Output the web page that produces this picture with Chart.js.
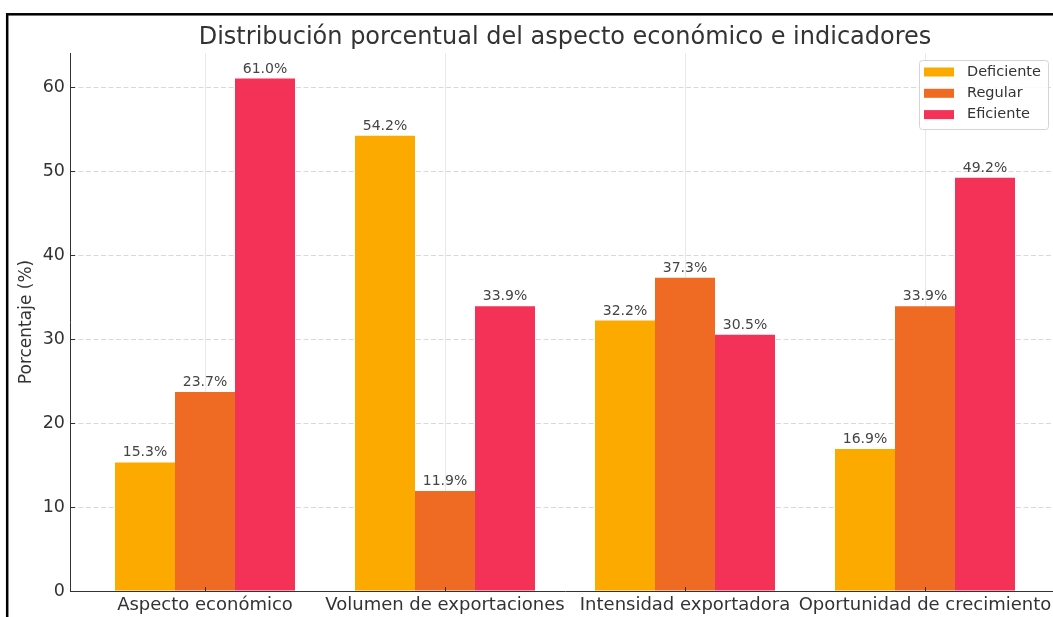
<!DOCTYPE html>
<html><head><meta charset="utf-8">
<script src="https://cdn.jsdelivr.net/npm/chart.js@4.4.1/dist/chart.umd.min.js"></script>
<style>html,body{margin:0;padding:0;overflow:hidden;background:#fff;width:1053px;height:617px}
#c{position:absolute;left:0;top:0}</style></head>
<body><canvas id="c" width="1100" height="640"></canvas>
<script>
const categories = ['Aspecto económico','Volumen de exportaciones','Intensidad exportadora','Oportunidad de crecimiento'];
const seriesNames = ['Deficiente','Regular','Eficiente'];
const deficiente = [15.3, 54.2, 32.2, 16.9];
const regular = [23.7, 11.9, 37.3, 33.9];
const eficiente = [61.0, 33.9, 30.5, 49.2];
const yTicks = [0, 10, 20, 30, 40, 50, 60];
const colors = ['#FDAA00', '#EF6A23', '#F43257'];

const FONT = 'DejaVu Sans';
const allSeries = [deficiente, regular, eficiente];

const extras = {
  id: 'extras',
  beforeDraw(chart) {
    const ctx = chart.ctx;
    ctx.save();
    ctx.fillStyle = '#fff';
    ctx.fillRect(0, 0, chart.width, chart.height);
    ctx.restore();
  },
  afterDraw(chart) {
    const ctx = chart.ctx;
    const xs = chart.scales.x, ys = chart.scales.y;
    const ca = chart.chartArea;
    ctx.save();
    ctx.strokeStyle = '#333';
    ctx.lineWidth = 1;
    yTicks.forEach(v => {
      const py = Math.round(ys.getPixelForValue(v)) + 0.5;
      ctx.beginPath(); ctx.moveTo(ca.left, py); ctx.lineTo(ca.left + 5, py); ctx.stroke();
    });
    categories.forEach((c, i) => {
      const px = Math.round(xs.getPixelForValue(i)) + 0.5;
      ctx.beginPath(); ctx.moveTo(px, ca.bottom); ctx.lineTo(px, ca.bottom - 4); ctx.stroke();
    });
    ctx.font = '14px "' + FONT + '"';
    ctx.fillStyle = '#444';
    ctx.textAlign = 'center';
    ctx.textBaseline = 'alphabetic';
    chart.data.datasets.forEach((ds, di) => {
      const meta = chart.getDatasetMeta(di);
      meta.data.forEach((el, i) => {
        ctx.fillText(allSeries[di][i].toFixed(1) + '%', el.x, el.y - 6);
      });
    });
    const lx = 919, ly = 60, lw = 129, lh = 69;
    ctx.beginPath();
    ctx.roundRect(lx + 0.5, ly + 0.5, lw, lh, 3);
    ctx.fillStyle = 'rgba(255,255,255,0.85)';
    ctx.fill();
    ctx.strokeStyle = '#d4d4d4';
    ctx.stroke();
    ctx.font = '14.5px "' + FONT + '"';
    ctx.textAlign = 'left';
    ctx.textBaseline = 'middle';
    seriesNames.forEach((n, i) => {
      const cy = 72 + i * 21.3;
      ctx.fillStyle = colors[i];
      ctx.fillRect(924, cy - 4.5, 30, 9);
      ctx.fillStyle = '#333';
      ctx.fillText(n, 967, cy);
    });
    ctx.strokeStyle = '#000';
    ctx.lineWidth = 2.5;
    ctx.strokeRect(7.2, 14.3, 3000, 3000);
    ctx.restore();
  }
};

new Chart(document.getElementById('c'), {
  type: 'bar',
  data: {
    datasets: seriesNames.map((n, di) => ({
      label: n,
      data: allSeries[di].map((v, i) => ({x: i, y: v})),
      backgroundColor: colors[di],
      borderWidth: 0,
      categoryPercentage: 0.75,
      barPercentage: 1.0
    }))
  },
  options: {
    responsive: false,
    animation: false,
    devicePixelRatio: 1,
    layout: {padding: {left: 0, right: 40, top: 0, bottom: 0}},
    plugins: {
      legend: {display: false},
      tooltip: {enabled: false},
      title: {
        display: true,
        text: 'Distribución porcentual del aspecto económico e indicadores',
        fullSize: false,
        color: '#333',
        font: {family: FONT, size: 24, weight: 'normal'},
        padding: {top: 23.5, bottom: 0.7}
      }
    },
    scales: {
      x: {
        type: 'linear',
        offset: false,
        min: -0.5625,
        max: 3.5625,
        afterBuildTicks: s => { s.ticks = categories.map((c, i) => ({value: i})); },
        ticks: {
          callback: (v, i) => categories[i],
          font: {family: FONT, size: 18},
          color: '#333',
          padding: 4,
          maxRotation: 0,
          autoSkip: false
        },
        grid: {color: 'rgba(0,0,0,0.09)', drawTicks: false, offset: false},
        border: {color: '#333', width: 1},
        afterFit: s => { s.height = 640 - 591; },
        z: 1
      },
      y: {
        min: 0,
        max: 64.05,
        afterBuildTicks: s => { s.ticks = yTicks.map(v => ({value: v})); },
        ticks: {font: {family: FONT, size: 17.5}, color: '#333', padding: 5},
        grid: {color: 'rgba(0,0,0,0.15)', drawTicks: false},
        border: {color: '#333', width: 1, dash: [5, 2.5]},
        title: {
          display: true,
          text: 'Porcentaje (%)',
          color: '#333',
          font: {family: FONT, size: 17},
          padding: {top: 16, bottom: 0}
        },
        afterFit: s => { s.width = 70; },
        z: 1
      }
    }
  },
  plugins: [extras]
});
</script></body></html>
